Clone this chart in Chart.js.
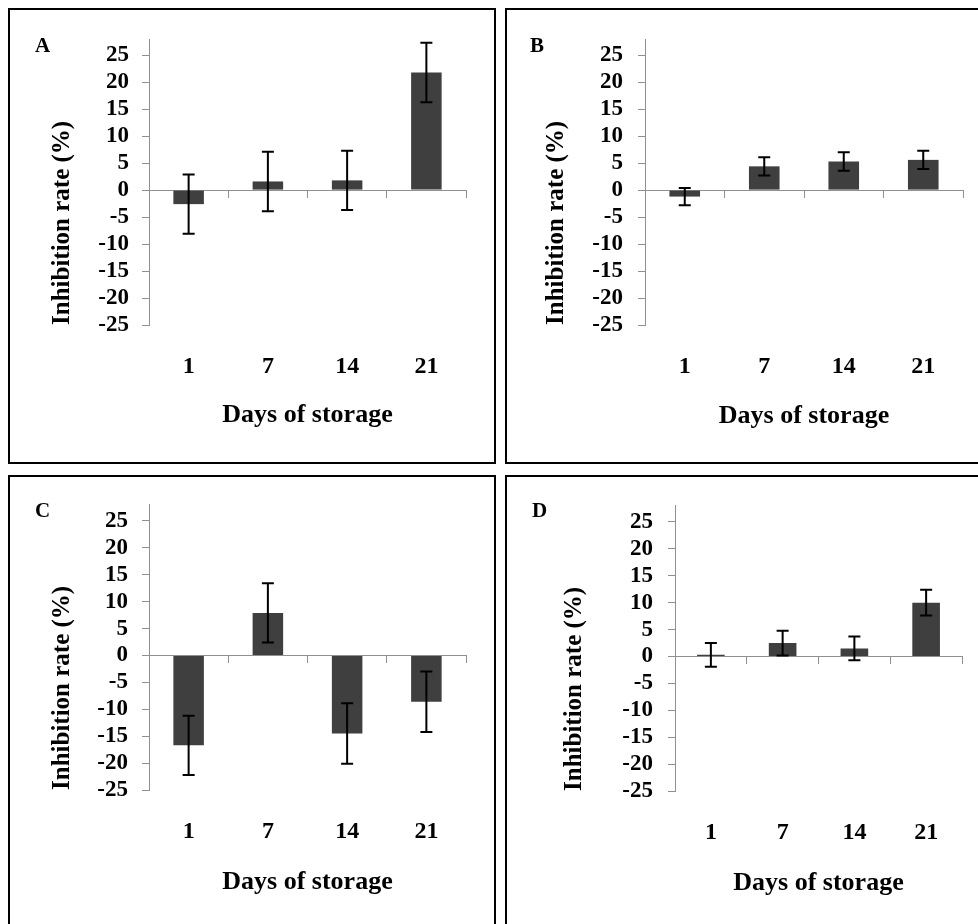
<!DOCTYPE html>
<html>
<head>
<meta charset="utf-8">
<script src="https://cdn.jsdelivr.net/npm/chart.js@4.4.1/dist/chart.umd.min.js"></script>
<style>
body { margin:0; width:978px; height:924px; overflow:hidden; background:#fff; position:relative; }
.panel { position:absolute; border:2px solid #000; box-sizing:border-box; overflow:hidden; background:#fff; }
.panel canvas { position:absolute; left:0; top:0; }
.tag { position:absolute; font:bold 21px "Liberation Serif", serif; line-height:21px; color:#000; }
</style>
</head>
<body>
<div class="panel" style="left:8px;top:8px;width:488px;height:456px">
  <canvas id="chartA" width="484" height="452"></canvas>
  <div class="tag" style="left:25px;top:25px">A</div>
</div>
<div class="panel" style="left:505px;top:8px;width:490px;height:456px">
  <canvas id="chartB" width="481" height="452"></canvas>
  <div class="tag" style="left:23px;top:25px">B</div>
</div>
<div class="panel" style="left:8px;top:475px;width:488px;height:460px">
  <canvas id="chartC" width="484" height="452"></canvas>
  <div class="tag" style="left:25px;top:23px">C</div>
</div>
<div class="panel" style="left:505px;top:475px;width:490px;height:460px">
  <canvas id="chartD" width="481" height="452"></canvas>
  <div class="tag" style="left:25px;top:23px">D</div>
</div>
<script>
// data
const days = ['1', '7', '14', '21'];
const yTicks = [-25, -20, -15, -10, -5, 0, 5, 10, 15, 20, 25];

const aMeans = [-2.6, 1.6, 1.8, 21.8];
const aErrors = [5.5, 5.5, 5.5, 5.5];

const bMeans = [-1.2, 4.4, 5.3, 5.6];
const bErrors = [1.6, 1.7, 1.7, 1.7];

const cMeans = [-16.7, 7.9, -14.5, -8.6];
const cErrors = [5.5, 5.5, 5.6, 5.6];

const dMeans = [0.3, 2.5, 1.5, 10.0];
const dErrors = [2.2, 2.3, 2.2, 2.4];

const barColor = '#3f3f3f';
const axisColor = '#909090';
const yTickFont = { family: '"Liberation Serif", serif', size: 23, weight: 'bold' };
const xTickFont = { family: '"Liberation Serif", serif', size: 24, weight: 'bold' };
const yTitleFont = { family: '"Liberation Serif", serif', size: 25, weight: 'bold' };
const xTitleFont = { family: '"Liberation Serif", serif', size: 26, weight: 'bold' };

// error bars drawn from dataset.errors through the y scale
const errorBars = {
    id: 'errorBars',
    afterDatasetsDraw(chart) {
        const ctx = chart.ctx;
        const y = chart.scales.y;
        chart.data.datasets.forEach((ds, di) => {
            chart.getDatasetMeta(di).data.forEach((bar, i) => {
                const top = y.getPixelForValue(ds.data[i] + ds.errors[i]);
                const bot = y.getPixelForValue(ds.data[i] - ds.errors[i]);
                ctx.save();
                ctx.strokeStyle = '#000';
                ctx.lineWidth = 2;
                ctx.beginPath();
                ctx.moveTo(bar.x, top);
                ctx.lineTo(bar.x, bot);
                ctx.moveTo(bar.x - 6, top);
                ctx.lineTo(bar.x + 6, top);
                ctx.moveTo(bar.x - 6, bot);
                ctx.lineTo(bar.x + 6, bot);
                ctx.stroke();
                ctx.restore();
            });
        });
    }
};

function drawPanel(id, means, errors, g) {
    const canvas = document.getElementById(id);
    const W = canvas.width, H = canvas.height;
    new Chart(canvas, {
        type: 'bar',
        data: {
            labels: days,
            datasets: [{
                data: means,
                errors: errors,
                backgroundColor: barColor,
                borderWidth: 0,
                barPercentage: 0.385,
                categoryPercentage: 1
            }]
        },
        options: {
            responsive: false,
            animation: false,
            layout: { padding: { left: 0, top: g.top, right: W - g.right, bottom: 0 } },
            plugins: { legend: { display: false }, tooltip: { enabled: false } },
            scales: {
                x: {
                    offset: true,
                    grid: { display: false, drawTicks: false },
                    border: { display: false },
                    ticks: { color: '#000', font: xTickFont, padding: g.xPad },
                    title: {
                        display: true, text: 'Days of storage', color: '#000', font: xTitleFont,
                        padding: { top: 0, bottom: g.xTitlePad }
                    },
                    afterFit: (s) => { s.height = H - g.bottom; }
                },
                // zero line with the category tick marks
                x2: {
                    type: 'category',
                    labels: days,
                    position: { y: 0 },
                    offset: true,
                    grid: { offset: true, drawOnChartArea: false, color: axisColor, tickLength: 7 },
                    border: { color: axisColor },
                    ticks: { display: false }
                },
                y: {
                    min: -25,
                    max: 28,
                    afterBuildTicks: (s) => { s.ticks = yTicks.map(v => ({ value: v })); },
                    grid: { drawOnChartArea: false, color: axisColor, tickLength: 7 },
                    border: { color: axisColor },
                    ticks: { color: '#000', font: yTickFont, padding: g.yPad, autoSkip: false },
                    title: {
                        display: true, text: 'Inhibition rate (%)', color: '#000', font: yTitleFont,
                        align: 'start', padding: { top: g.yTitlePad, bottom: 0 }
                    },
                    afterFit: (s) => { s.width = g.left; }
                }
            }
        },
        plugins: [errorBars]
    });
}

drawPanel('chartA', aMeans, aErrors, { left: 139, top: 29, right: 456, bottom: 315, yPad: 13, yTitlePad: 38, xPad: 27, xTitlePad: 31 });
drawPanel('chartB', bMeans, bErrors, { left: 138, top: 29, right: 456, bottom: 315, yPad: 15, yTitlePad: 35, xPad: 27, xTitlePad: 30 });
drawPanel('chartC', cMeans, cErrors, { left: 139, top: 26, right: 456, bottom: 313, yPad: 14, yTitlePad: 38, xPad: 27, xTitlePad: 31 });
drawPanel('chartD', dMeans, dErrors, { left: 168, top: 26, right: 455, bottom: 314, yPad: 15, yTitlePad: 53, xPad: 27, xTitlePad: 30 });
</script>
</body>
</html>
